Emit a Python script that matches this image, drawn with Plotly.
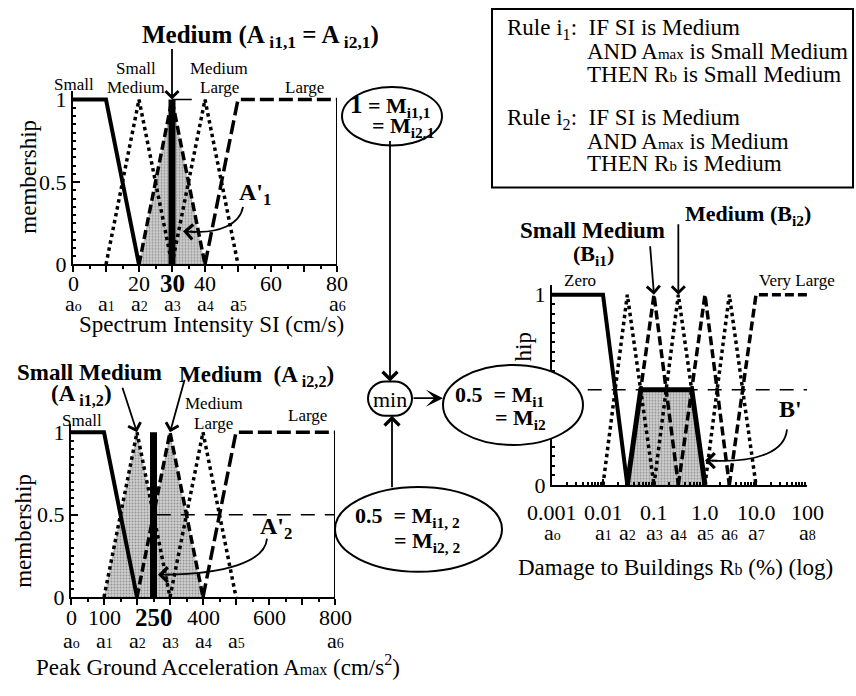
import math
import plotly.graph_objects as go

W, H = 856, 696
FONT = "Liberation Serif"

# ---------------- data: Panel 1 (Spectrum Intensity SI, cm/s)
si_small_x, si_small_y = [0, 10, 20], [1, 1, 0]
si_smallmed_x, si_smallmed_y = [10, 20, 30], [0, 1, 0]
si_medium_x, si_medium_y = [20, 30, 40], [0, 1, 0]
si_medlarge_x, si_medlarge_y = [30, 40, 50], [0, 1, 0]
si_large_x, si_large_y = [40, 50, 80], [0, 1, 1]
si_shade_x, si_shade_y = [20, 30, 40], [0, 1, 0]
si_input = 30
si_match = 1.0
si_tick_vals = [0, 20, 30, 40, 60, 80]
si_tick_text = ["0", "20", "<b><span style='font-size:25px'>30</span></b>", "40", "60", "80"]
si_sub_vals = [0, 10, 20, 30, 40, 50, 80]
si_sub_text = ["o", "1", "2", "3", "4", "5", "6"]

# ---------------- data: Panel 2 (Peak Ground Acceleration Amax, cm/s2)
am_small_x, am_small_y = [0, 100, 200], [1, 1, 0]
am_smallmed_x, am_smallmed_y = [100, 200, 300], [0, 1, 0]
am_medium_x, am_medium_y = [200, 300, 400], [0, 1, 0]
am_medlarge_x, am_medlarge_y = [300, 400, 500], [0, 1, 0]
am_large_x, am_large_y = [400, 500, 800], [0, 1, 1]
am_shade_x, am_shade_y = [100, 200, 250, 300, 400], [0, 1, 0.5, 1, 0]
am_input = 250
am_match = 0.5
am_tick_vals = [0, 100, 250, 400, 600, 800]
am_tick_text = ["0", "100", "<b><span style='font-size:25px'>250</span></b>", "400", "600", "800"]
am_sub_vals = [0, 100, 200, 300, 400, 500, 800]
am_sub_text = ["o", "1", "2", "3", "4", "5", "6"]

# ---------------- data: Panel 3 (Damage to Buildings Rb, %, log)
rb_zero_x, rb_zero_y = [0.001, 0.01, 0.03], [1, 1, 0]
rb_vsmall_x, rb_vsmall_y = [0.01, 0.03, 0.1], [0, 1, 0]
rb_smallmed_x, rb_smallmed_y = [0.03, 0.1, 0.3], [0, 1, 0]
rb_medium_x, rb_medium_y = [0.1, 0.3, 1.0], [0, 1, 0]
rb_medlarge_x, rb_medlarge_y = [0.3, 1.0, 3.0], [0, 1, 0]
rb_large_x, rb_large_y = [1.0, 3.0, 10.0], [0, 1, 0]
rb_vlarge_x, rb_vlarge_y = [3.0, 10.0, 100.0], [0, 1, 1]
rb_out_x, rb_out_y = [0.03, 0.055, 0.55, 1.0], [0, 0.5, 0.5, 0]
rb_match = 0.5
rb_tick_vals = [0.001, 0.01, 0.1, 1.0, 10.0, 100.0]
rb_tick_text = ["0.001", "0.01", "0.1", "1.0", "10.0", "100"]
rb_sub_vals = [0.001, 0.01, 0.03, 0.1, 0.3, 1.0, 3.0, 10.0, 100.0]
rb_sub_text = ["o", "1", "2", "3", "4", "5", "6", "7", "8"]

# ---------------- helpers
def px(x):
    return x / W

def py(y):
    return 1 - y / H

SOLID = dict(color="black", width=4)
DOT = dict(color="black", width=3.5, dash="dot")
DASH = dict(color="black", width=3.5, dash="9px,4px")
LDASH = dict(color="black", width=3.5, dash="14px,5px")
THIN_DASH = dict(color="black", width=1.5, dash="14px,10px")
FILLPAT = dict(shape=".", fgcolor="#555555", bgcolor="#cfcfcf", size=3, solidity=0.35)

fig = go.Figure()

def line(x, y, style, ax=""):
    fig.add_trace(go.Scatter(x=x, y=y, mode="lines", line=style,
                             xaxis="x" + ax, yaxis="y" + ax, showlegend=False,
                             hoverinfo="skip"))

def shade(x, y, ax=""):
    fig.add_trace(go.Scatter(x=x, y=y, mode="lines", fill="toself",
                             fillcolor="#cfcfcf", fillpattern=FILLPAT,
                             line=dict(width=0), xaxis="x" + ax, yaxis="y" + ax,
                             showlegend=False, hoverinfo="skip"))

# Panel 1
shade(si_shade_x, si_shade_y, "")
line([si_input, si_input + 6], [si_match, si_match], dict(color="black", width=1.5), "")
line(si_small_x, si_small_y, SOLID, "")
line(si_smallmed_x, si_smallmed_y, DOT, "")
line(si_medium_x, si_medium_y, DASH, "")
line(si_medlarge_x, si_medlarge_y, DOT, "")
line(si_large_x, si_large_y, LDASH, "")
line([si_input, si_input], [0, 1], dict(color="black", width=7), "")

# Panel 2
shade(am_shade_x, am_shade_y, "2")
line([am_input + 10, am_large_x[-1]], [am_match, am_match], THIN_DASH, "2")
line(am_small_x, am_small_y, SOLID, "2")
line(am_smallmed_x, am_smallmed_y, DOT, "2")
line(am_medium_x, am_medium_y, DASH, "2")
line(am_medlarge_x, am_medlarge_y, DOT, "2")
line(am_large_x, am_large_y, LDASH, "2")
line([am_input, am_input], [0, 1], dict(color="black", width=7), "2")

# Panel 3
shade(rb_out_x, rb_out_y, "3")
line([0.005, 100], [rb_match, rb_match], THIN_DASH, "3")
line(rb_zero_x, rb_zero_y, SOLID, "3")
line(rb_vsmall_x, rb_vsmall_y, DOT, "3")
line(rb_smallmed_x, rb_smallmed_y, DASH, "3")
line(rb_medium_x, rb_medium_y, DOT, "3")
line(rb_medlarge_x, rb_medlarge_y, DASH, "3")
line(rb_large_x, rb_large_y, DOT, "3")
line(rb_vlarge_x, rb_vlarge_y, DASH, "3")
line(rb_out_x, rb_out_y, dict(color="black", width=5), "3")

# ---------------- axes
def ydom(bottom, top1, ymax=1.05):
    t = bottom - (bottom - top1) * ymax
    return [py(bottom), py(t)]

def xaxis_cfg(l, r, rng, anchor, dt, mdt, log=False, inside=False):
    d = dict(domain=[px(l), px(r)], range=rng, anchor=anchor, showline=True,
             linecolor="black", linewidth=2, showgrid=False, zeroline=False,
             showticklabels=False, ticks="inside" if inside else "outside",
             ticklen=6, tickwidth=2, tickcolor="black", tickmode="linear",
             tick0=0, dtick=dt,
             minor=dict(ticks="inside" if inside else "outside", ticklen=3,
                        tickwidth=1.5, tickcolor="black", dtick=mdt, showgrid=False))
    if log:
        d["type"] = "log"
    return d

def yaxis_cfg(bottom, top1, anchor, ticktext):
    return dict(domain=ydom(bottom, top1), range=[0, 1.05], anchor=anchor,
                showline=True, linecolor="black", linewidth=2, showgrid=False,
                zeroline=False, ticks="inside", ticklen=7, tickwidth=2,
                tickcolor="black", tickmode="array", tickvals=[0, 0.5, 1],
                ticktext=ticktext,
                tickfont=dict(family=FONT, size=22, color="black"),
                minor=dict(ticks="inside", ticklen=3, tickwidth=1.5,
                           tickcolor="black", dtick=0.05, tick0=0, showgrid=False))

fig.update_layout(
    xaxis=xaxis_cfg(73, 337, [0, 80], "y", 10, 5),
    yaxis=yaxis_cfg(267, 98, "x", ["0", "0.5", "1"]),
    xaxis2=xaxis_cfg(71, 335, [0, 800], "y2", 100, 50),
    yaxis2=yaxis_cfg(608, 439, "x2", ["0", "0.5", "1"]),
    xaxis3=xaxis_cfg(552, 807, [-3, 2], "y3", 1, "D1", log=True, inside=True),
    yaxis3=yaxis_cfg(493, 298, "x3", ["0", "", "1"]),
)

# ---------------- shapes
shapes = []
shapes.append(dict(type="line", xref="x", yref="y", x0=si_large_x[-1], x1=si_large_x[-1],
                   y0=0, y1=1, line=dict(color="black", width=2)))
shapes.append(dict(type="line", xref="x2", yref="y2", x0=am_large_x[-1], x1=am_large_x[-1],
                   y0=0, y1=1, line=dict(color="black", width=2)))

def ellipse(x0, y0, x1, y1):
    shapes.append(dict(type="circle", xref="paper", yref="paper", x0=px(x0), x1=px(x1),
                       y0=py(y1), y1=py(y0), fillcolor="white",
                       line=dict(color="black", width=2), layer="above"))

ellipse(342, 85, 442, 145)
ellipse(443, 370, 583, 452)
ellipse(335, 495, 502, 582)

def P(x, y):
    return f"{px(x):.5f},{py(y):.5f}"

l, r, t, b = 368, 412, 387, 422
rr = (b - t) / 2
k = 0.5523 * rr
cy = (t + b) / 2
pill = (f"M {P(l+rr, t)} L {P(r-rr, t)} C {P(r-rr+k, t)} {P(r, cy-k)} {P(r, cy)} "
        f"C {P(r, cy+k)} {P(r-rr+k, b)} {P(r-rr, b)} L {P(l+rr, b)} "
        f"C {P(l+rr-k, b)} {P(l, cy+k)} {P(l, cy)} C {P(l, cy-k)} {P(l+rr-k, t)} {P(l+rr, t)} Z")
shapes.append(dict(type="path", xref="paper", yref="paper", path=pill, fillcolor="white",
                   line=dict(color="black", width=2), layer="above"))

shapes.append(dict(type="rect", xref="paper", yref="paper", x0=px(492), x1=px(853),
                   y0=py(188), y1=py(5), line=dict(color="black", width=2),
                   fillcolor="rgba(0,0,0,0)", layer="above"))

def curve(p0, c1, c2, p1):
    shapes.append(dict(type="path", xref="paper", yref="paper",
                       path=f"M {P(*p0)} C {P(*c1)} {P(*c2)} {P(*p1)}",
                       line=dict(color="black", width=1.8), layer="above"))

curve((243, 208), (240, 226), (218, 236), (190, 233))
curve((267, 548), (265, 572), (225, 584), (165, 585))
curve((787, 436), (785, 458), (760, 470), (712, 468))

fig.update_layout(shapes=shapes)

# ---------------- annotations
ann = []

def text(x, y, s, size=17, bold=False, xanchor="center", angle=0):
    if bold:
        s = f"<b>{s}</b>"
    ann.append(dict(x=px(x), y=py(y), xref="paper", yref="paper", text=s,
                    showarrow=False, xanchor=xanchor, yanchor="middle",
                    textangle=angle, font=dict(family=FONT, size=size, color="black")))

def arrow(tipx, tipy, tailx, taily, head=4, size=1.4, width=1.8, xref="paper", yref="paper",
          tx=None, ty=None):
    X = px(tipx) if tx is None else tx
    Y = py(tipy) if ty is None else ty
    ann.append(dict(x=X, y=Y, xref=xref, yref=yref, text="", showarrow=True,
                    ax=tailx - tipx, ay=taily - tipy, arrowhead=head, arrowsize=size,
                    arrowwidth=width, arrowcolor="black", standoff=0))

def tick_row(vals, texts, ypix, xref, size=22, log=False):
    for v, s in zip(vals, texts):
        ann.append(dict(x=math.log10(v) if log else v, y=py(ypix), xref=xref, yref="paper",
                        text=s, showarrow=False, xanchor="center", yanchor="middle",
                        font=dict(family=FONT, size=size, color="black")))

def sub_text(s):
    return f"a<span style='font-size:14px'>{s}</span>"

tick_row(si_tick_vals, si_tick_text, 286, "x")
tick_row(si_sub_vals, [sub_text(s) for s in si_sub_text], 307, "x")
tick_row(am_tick_vals, am_tick_text, 629, "x2")
tick_row(am_sub_vals, [sub_text(s) for s in am_sub_text], 652, "x2")
tick_row(rb_tick_vals, rb_tick_text, 521, "x3", log=True)
tick_row(rb_sub_vals, [sub_text(s) for s in rb_sub_text], 542, "x3", log=True)

# axis titles
text(29, 177, "membership", size=23, angle=-90)
text(24, 540, "membership", size=23, angle=-90)
text(523, 352, "hip", size=23, angle=-90)
text(211, 329, "Spectrum Intensity SI (cm/s)", size=23)
text(218, 678, "Peak Ground Acceleration A<span style='font-size:16px'>max</span> (cm/s<sup>2</sup>)", size=23)
text(835, 578, "Damage to Buildings R<span style='font-size:16px'>b</span> (%) (log)", size=23, xanchor="right")

# panel 1 labels
text(140, 33, "Medium (A<sub> i1,1</sub> = A<sub> i2,1</sub>)", size=25, bold=True, xanchor="left")
arrow(0, 0, 0, -52, tx=si_input, ty=1, xref="x", yref="y")
text(74, 83, "Small")
text(136, 66, "Small")
text(136, 86, "Medium")
text(219, 66, "Medium")
text(219, 86, "Large")
text(304, 86, "Large")
text(255, 195, "A'<sub>1</sub>", size=24, bold=True)
arrow(183, 233, 197, 234, head=4, size=1.6)

# panel 2 labels
text(89, 378, "Small Medium", size=23, bold=True)
text(81, 401, "(A<sub> i1,2</sub>)", size=23, bold=True)
text(177, 381, "Medium  (A<sub> i2,2</sub>)", size=23, bold=True, xanchor="left")
arrow(0, 0, -15, -46, tx=am_smallmed_x[1], ty=1, xref="x2", yref="y2")
arrow(0, 0, 15, -54, tx=am_medium_x[1], ty=1, xref="x2", yref="y2")
text(82, 427, "Small")
text(214, 410, "Medium")
text(213, 430, "Large")
text(307, 422, "Large")
text(276, 537, "A'<sub>2</sub>", size=24, bold=True)
arrow(158, 585, 172, 585, head=4, size=1.6)

# panel 3 labels
text(592, 232, "Small Medium", size=23, bold=True)
text(593, 257, "(B<sub>i1</sub>)", size=22, bold=True)
text(683, 216, "Medium (B<sub>i2</sub>)", size=22, bold=True, xanchor="left")
arrow(0, 0, -4, -50, tx=-1, ty=1, xref="x3", yref="y3")
arrow(0, 0, 0, -72, tx=-0.523, ty=1, xref="x3", yref="y3")
text(580, 283, "Zero")
text(797, 283, "Very Large")
text(790, 415, "B'", size=24, bold=True)
arrow(705, 468, 719, 468, head=4, size=1.6)

# ellipse texts
text(348, 105, "<span style='font-size:25px'>1</span> = M<sub>i1,1</sub>", size=22, bold=True, xanchor="left")
text(370, 126, "= M<sub>i2,1</sub>", size=22, bold=True, xanchor="left")
text(453, 402, "0.5  = M<sub>i1</sub>", size=22, bold=True, xanchor="left")
text(493, 425, "= M<sub>i2</sub>", size=22, bold=True, xanchor="left")
text(353, 526, "0.5  = M<sub>i1, 2</sub>", size=22, bold=True, xanchor="left")
text(392, 551, "= M<sub>i2, 2</sub>", size=22, bold=True, xanchor="left")
text(390, 405, "min", size=22)

# connecting arrows
arrow(390, 387, 390, 145, head=4, size=1.6, width=1.8)
arrow(443, 404, 412, 404, head=3, size=1.6, width=1.8)
arrow(392, 422, 392, 495, head=4, size=1.6, width=1.8)

# rule box texts
SMALL = "font-size:15px"
text(505, 26, "Rule i<sub>1</sub>:  IF SI is Medium", size=23, xanchor="left")
text(585, 49, f"AND A<span style='{SMALL}'>max</span> is Small Medium", size=23, xanchor="left")
text(585, 72, f"THEN R<span style='{SMALL}'>b</span> is Small Medium", size=23, xanchor="left")
text(505, 118, "Rule i<sub>2</sub>:  IF SI is Medium", size=23, xanchor="left")
text(585, 141, f"AND A<span style='{SMALL}'>max</span> is Medium", size=23, xanchor="left")
text(585, 164, f"THEN R<span style='{SMALL}'>b</span> is Medium", size=23, xanchor="left")

fig.update_layout(
    annotations=ann,
    width=W, height=H,
    margin=dict(l=0, r=0, t=0, b=0),
    paper_bgcolor="white", plot_bgcolor="white",
    showlegend=False,
    font=dict(family=FONT, color="black"),
)

fig.write_html("out.html")
